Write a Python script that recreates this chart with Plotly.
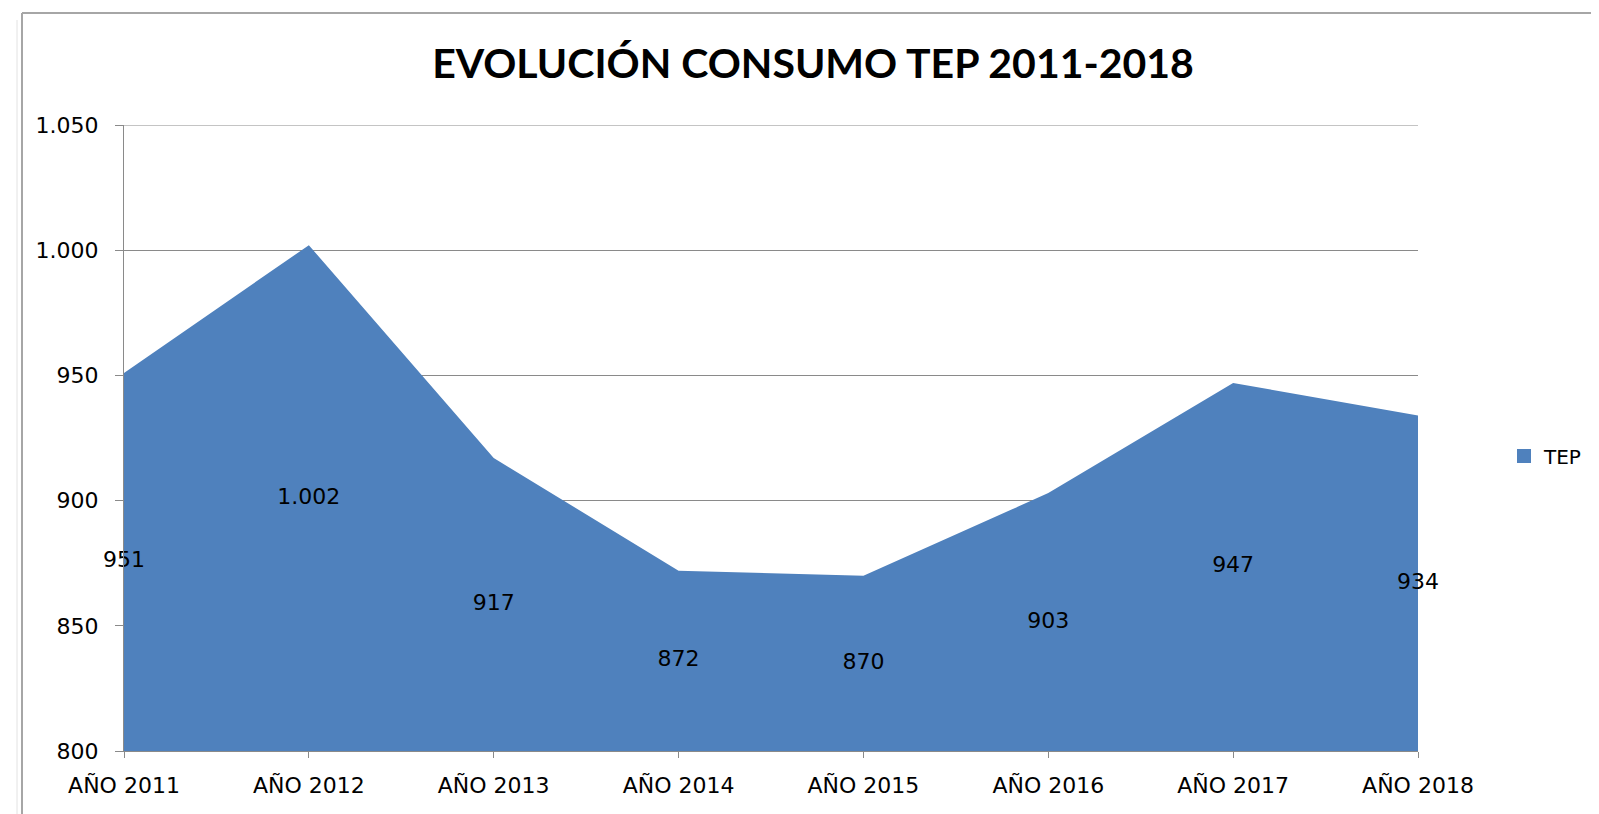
import plotly.graph_objects as go

categories = ["AÑO 2011", "AÑO 2012", "AÑO 2013", "AÑO 2014",
              "AÑO 2015", "AÑO 2016", "AÑO 2017", "AÑO 2018"]
tep_values = [951, 1002, 917, 872, 870, 903, 947, 934]
y_ticks = [800, 850, 900, 950, 1000, 1050]
title_text = "EVOLUCIÓN CONSUMO TEP 2011-2018"
series_name = "TEP"

AREA_COLOR = "#4F81BD"
GRID_COLOR = "#8A8A8A"
OFF = 8                      # default page body margin of the browser
W, H = 1599 - OFF, 814 - OFF
# plot area in screen pixels: x 124..1418, y 125..751
L, T = 124 - OFF, 125 - OFF
R, B = 1599 - 1418, 814 - 751
y_min, y_max = 800, 1050


def fmt(v):
    return f"{v:,}".replace(",", ".")


fig = go.Figure()

fig.add_trace(go.Scatter(
    x=categories, y=tep_values, mode="lines", fill="tozeroy",
    fillcolor=AREA_COLOR, line=dict(color=AREA_COLOR, width=0),
    showlegend=False, hoverinfo="skip",
))

# data labels placed at the middle of each area column (Excel "center")
fig.add_trace(go.Scatter(
    x=categories, y=[(v + y_min) / 2 for v in tep_values], mode="text",
    text=[fmt(v) for v in tep_values],
    textfont=dict(family="DejaVu Sans", size=22, color="#000000"),
    textposition="middle center", showlegend=False, hoverinfo="skip",
    cliponaxis=False,
))

# legend entry
fig.add_trace(go.Scatter(
    x=[None], y=[None], mode="markers", name=series_name,
    marker=dict(symbol="square", size=14, color=AREA_COLOR),
))

pw, ph = W - L - R, H - T - B


def sx(p):
    """screen x pixel -> paper coordinate"""
    return (p - OFF - L) / pw


def sy(p):
    """screen y pixel -> paper coordinate"""
    return (H - B - (p - OFF)) / ph


# top gridline at the upper edge of the value axis
fig.add_shape(type="line", xref="paper", yref="y", x0=0, x1=1,
              y0=y_max, y1=y_max, line=dict(color=GRID_COLOR, width=1),
              layer="below")

# faint spreadsheet grid behind the chart object
sheet = dict(color="#E2E2E2", width=1)
fig.add_shape(type="line", xref="paper", yref="paper",
              x0=sx(17), x1=sx(17), y0=sy(20), y1=sy(814), line=sheet)

# chart border lines (top and left) of the Excel chart object
border = dict(color="#A6A6A6", width=2)
fig.add_shape(type="line", xref="paper", yref="paper",
              x0=sx(22), x1=sx(1599), y0=sy(13), y1=sy(13), line=border)
fig.add_shape(type="line", xref="paper", yref="paper",
              x0=sx(22), x1=sx(22), y0=sy(13), y1=sy(814), line=border)

fig.update_layout(
    width=W, height=H,
    margin=dict(l=L, r=R, t=T, b=B, pad=0, autoexpand=False),
    paper_bgcolor="white", plot_bgcolor="white",
    separators=",.",
    title=dict(text=title_text, x=805 / W, xanchor="center",
               y=1 - 56 / H, yanchor="middle",
               font=dict(family="Lato", size=41, color="#000000", weight="bold")),
    font=dict(family="DejaVu Sans", size=22, color="#000000"),
    legend=dict(x=sx(1504), y=sy(456), xanchor="left", yanchor="middle",
                font=dict(family="DejaVu Sans", size=20, color="#000000"),
                itemwidth=30, bgcolor="rgba(0,0,0,0)"),
    showlegend=True,
)

fig.update_xaxes(
    type="category", range=[0, len(categories) - 1], automargin=False,
    showgrid=False, showline=True, linecolor=GRID_COLOR, linewidth=1,
    ticks="outside", ticklen=6, tickcolor=GRID_COLOR, ticklabelstandoff=9,
    tickfont=dict(family="DejaVu Sans", size=22, color="#000000"),
    zeroline=False, fixedrange=True,
)
fig.update_yaxes(
    range=[y_min, y_max], tickvals=y_ticks, tickformat=",d", automargin=False,
    showgrid=True, gridcolor=GRID_COLOR, gridwidth=1,
    showline=True, linecolor=GRID_COLOR, linewidth=1,
    ticks="outside", ticklen=8, tickcolor=GRID_COLOR, ticklabelstandoff=12,
    tickfont=dict(family="DejaVu Sans", size=22, color="#000000"),
    zeroline=False, fixedrange=True,
)

fig.write_html("out.html")
